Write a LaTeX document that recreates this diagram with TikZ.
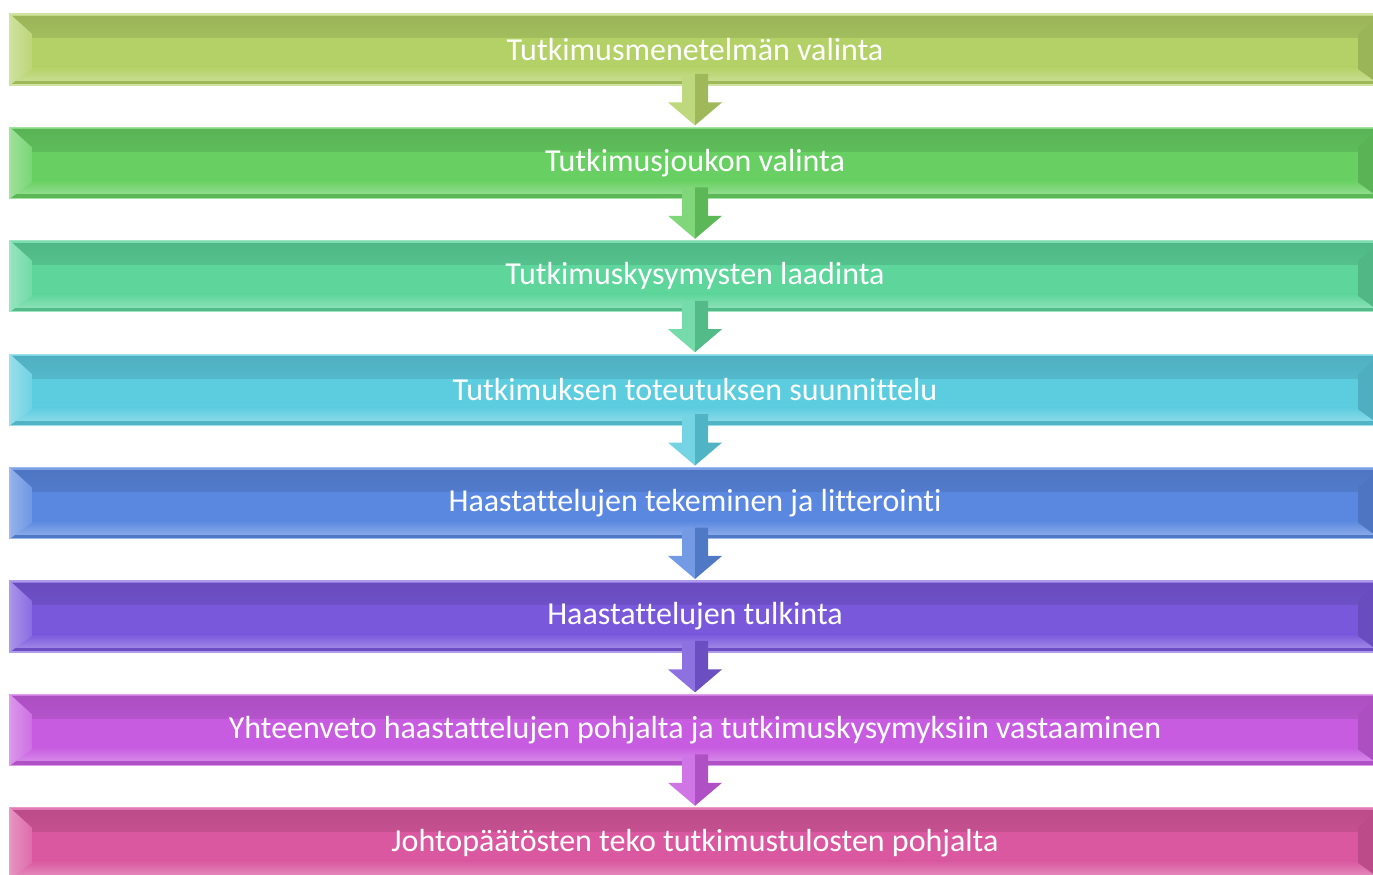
\documentclass[tikz,border=0pt]{standalone}
\usepackage{fontspec}
\setmainfont{Carlito}[Ligatures=NoCommon]
\usetikzlibrary{calc}

\definecolor{colA}{HTML}{B3D166}
\definecolor{colB}{HTML}{68D063}
\definecolor{colC}{HTML}{5DD59B}
\definecolor{colD}{HTML}{5CCCDF}
\definecolor{colE}{HTML}{5A88E0}
\definecolor{colF}{HTML}{7A58DC}
\definecolor{colG}{HTML}{C75CE0}
\definecolor{colH}{HTML}{D9589F}

\tikzset{
    bar/.style={
        fill=#1, draw=#1!60!white, line width=1.2pt, outer sep=0pt,
        minimum width=1370, minimum height=71, inner sep=0pt,
        text=white, font=\fontsize{32}{36}\selectfont,
        path picture={
            \shade[top color=#1!86!black, bottom color=#1]
                ([yshift=-2]path picture bounding box.north west) rectangle ([yshift=-24]path picture bounding box.north east);
            \fill[#1!80!white] (path picture bounding box.north west) rectangle ([yshift=-2]path picture bounding box.north east);
            \shade[top color=#1, bottom color=#1!72!white]
                ([yshift=18]path picture bounding box.south west) rectangle ([yshift=4]path picture bounding box.south east);
            \fill[#1!88!black] (path picture bounding box.south west) rectangle ([yshift=4]path picture bounding box.south east);
            \shade[left color=#1!65!white, right color=#1!88!white] (path picture bounding box.north west)
                -- ([xshift=22,yshift=-20]path picture bounding box.north west)
                -- ([xshift=22,yshift=16]path picture bounding box.south west)
                -- (path picture bounding box.south west) -- cycle;
            \fill[#1!86!black] (path picture bounding box.north east)
                -- ([xshift=-22,yshift=-20]path picture bounding box.north east)
                -- ([xshift=-22,yshift=16]path picture bounding box.south east)
                -- (path picture bounding box.south east) -- cycle;
        }},
}

\newcommand{\flowarrow}[3]{%
    \fill[#3!85!white] ($(#1.south)+(-13,11)$) -- ($(#1.south)+(0,11)$) -- ($(#2.north)+(0,2)$)
        -- ($(#2.north)+(-27,25)$) -- ($(#2.north)+(-13,25)$) -- cycle;
    \fill[#3!88!black] ($(#1.south)+(13,11)$) -- ($(#1.south)+(0,11)$) -- ($(#2.north)+(0,2)$)
        -- ($(#2.north)+(27,25)$) -- ($(#2.north)+(13,25)$) -- cycle;
}

\begin{document}
\begin{tikzpicture}[x=1pt,y=1pt]
    \useasboundingbox (0,0) rectangle (1373,875);
    \clip (0,0) rectangle (1373,875);

    \node[bar=colA] (A) at (695,825.5) {Tutkimusmenetelmän valinta};
    \node[bar=colB] (B) at (695,712.1) {Tutkimusjoukon valinta};
    \node[bar=colC] (C) at (695,598.7) {Tutkimuskysymysten laadinta};
    \node[bar=colD] (D) at (695,485.3) {Tutkimuksen toteutuksen suunnittelu};
    \node[bar=colE] (E) at (695,371.9) {Haastattelujen tekeminen ja litterointi};
    \node[bar=colF] (F) at (695,258.5) {Haastattelujen tulkinta};
    \node[bar=colG] (G) at (695,145.1) {Yhteenveto haastattelujen pohjalta ja tutkimuskysymyksiin vastaaminen};
    \node[bar=colH] (H) at (695,31.7) {Johtopäätösten teko tutkimustulosten pohjalta};

    \flowarrow{A}{B}{colA}
    \flowarrow{B}{C}{colB}
    \flowarrow{C}{D}{colC}
    \flowarrow{D}{E}{colD}
    \flowarrow{E}{F}{colE}
    \flowarrow{F}{G}{colF}
    \flowarrow{G}{H}{colG}
\end{tikzpicture}
\end{document}
